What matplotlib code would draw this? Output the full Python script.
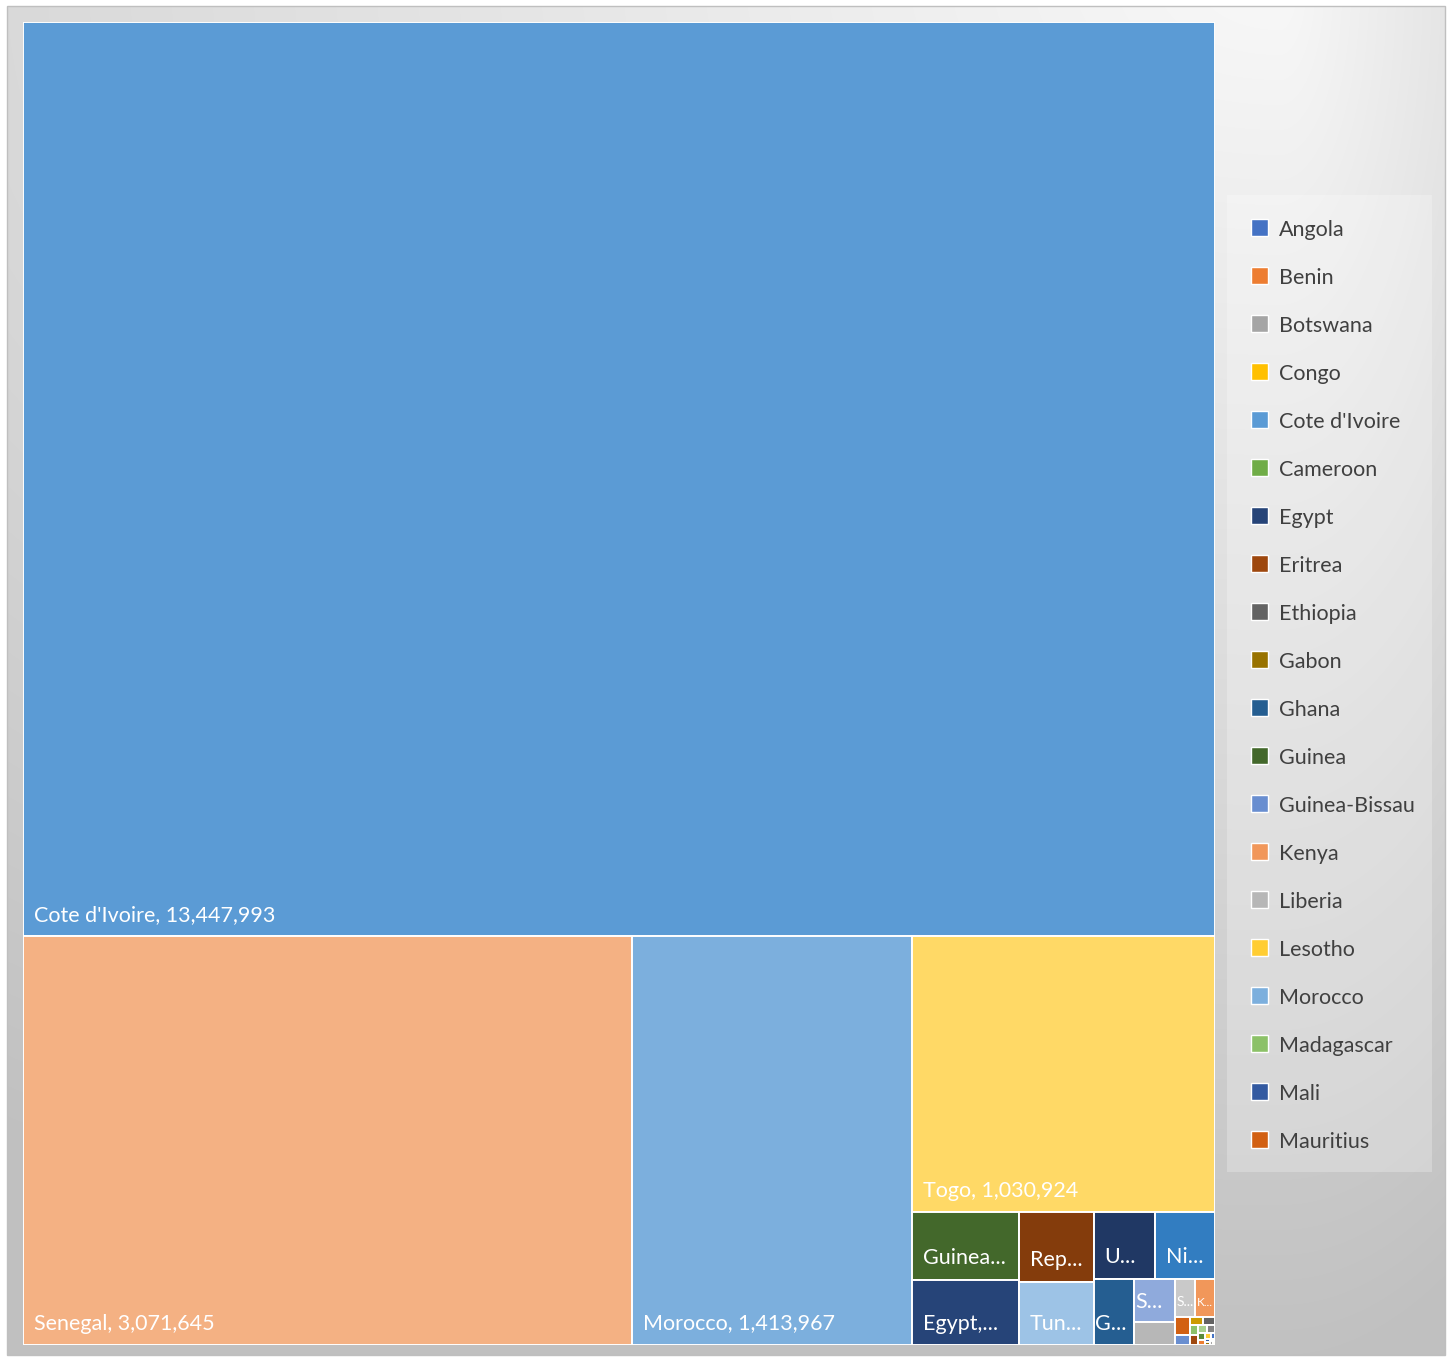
import numpy as np
import matplotlib
matplotlib.use('Agg')
import matplotlib.pyplot as plt
from matplotlib.patches import Rectangle
from matplotlib.font_manager import FontProperties

plt.rcParams['font.family'] = ['Lato', 'DejaVu Sans']

# Series in sheet order (ISO code order); palette colour follows position
COUNTRIES = [
    "Angola", "Benin", "Botswana", "Congo", "Cote d'Ivoire", "Cameroon",
    "Egypt", "Eritrea", "Ethiopia", "Gabon", "Ghana", "Guinea",
    "Guinea-Bissau", "Kenya", "Liberia", "Lesotho", "Morocco", "Madagascar",
    "Mali", "Mauritius", "Mozambique", "Namibia", "Niger", "Rwanda",
    "Sierra Leone", "Senegal", "Swaziland", "Togo", "Tunisia", "Tanzania",
    "Uganda", "Republic of South Africa",
]
VALUES = [
    300, 400, 120, 100, 13447993, 150,
    86200, 900, 1200, 200, 33100, 89000,
    1900, 9100, 11600, 400, 1413967, 1000,
    250, 3500, 800, 1300, 49800, 600,
    21500, 3071645, 9600, 1030924, 58500, 900,
    50400, 64000,
]
# Office theme series colours: accents, then darker/lighter variants
PALETTE = [
    "#4472C4", "#ED7D31", "#A5A5A5", "#FFC000", "#5B9BD5", "#70AD47",
    "#264478", "#9E480E", "#636363", "#997300", "#255E91", "#43682B",
    "#698ED0", "#F1975A", "#B7B7B7", "#FFCD33", "#7CAFDD", "#8CC168",
    "#335AA1", "#D26012", "#848484", "#CC9A00", "#327DC1", "#5A8A39",
    "#8FAADC", "#F4B183", "#C9C9C9", "#FFD966", "#9DC3E6", "#A9D18E",
    "#203864", "#843C0C",
]
LEGEND_COUNT = 20

FIG_W, FIG_H = 1450, 1357
MAP_X0, MAP_Y0, MAP_W, MAP_H = 23, 22, 1192, 1323
FONT_PT = 15.5
CAP_PX = FONT_PT * 100 / 72 * 0.72


def worst(row, side):
    s = sum(row)
    return max(max(side * side * r / (s * s), (s * s) / (side * side * r)) for r in row)


def squarify(areas, x, y, w, h):
    """Squarified treemap; y grows downwards. Returns (x, y, w, h) per area."""
    rects = []
    rest = list(areas)
    while rest:
        side = min(w, h)
        row = [rest[0]]
        i = 1
        while i < len(rest) and worst(row + [rest[i]], side) <= worst(row, side):
            row.append(rest[i])
            i += 1
        s = sum(row)
        if w >= h:
            cw = s / h
            yy = y
            for a in row:
                rh = a / cw
                rects.append((x, yy, cw, rh))
                yy += rh
            x += cw
            w -= cw
        else:
            rh = s / w
            xx = x
            for a in row:
                rw = a / rh
                rects.append((xx, y, rw, rh))
                xx += rw
            y += rh
            h -= rh
        rest = rest[i:]
    return rects


fig = plt.figure(figsize=(FIG_W / 100, FIG_H / 100), dpi=100)
fig.patch.set_facecolor('white')

# background: soft grey gradient, brightest near the top right
bg = fig.add_axes([0, 0, 1, 1])
bg.set_xlim(0, FIG_W)
bg.set_ylim(FIG_H, 0)
bg.axis('off')
yy, xx = np.mgrid[0:FIG_H, 0:FIG_W] + 0.5
dx = np.where(xx < 1280, (xx - 1280) / 2300, (xx - 1280) / 500)
dy = (yy + 20) / 1400
r = np.clip(np.hypot(dx, dy), 0, 1)
shade = (248 - 56 * r) / 255
inside = (xx > 7) & (xx < 1445) & (yy > 6) & (yy < 1355)
shade = np.where(inside, shade, 1.0)
bg.imshow(np.dstack([shade] * 3), extent=(0, FIG_W, FIG_H, 0), aspect='auto',
          interpolation='bilinear', zorder=0)
bg.add_patch(Rectangle((7, 6), 1438, 1349, fill=False, edgecolor='#bfbfbf',
                       linewidth=1.0, zorder=1))

# legend
bg.add_patch(Rectangle((1227, 195), 205, 977, facecolor='white', alpha=0.25,
                       edgecolor='none', zorder=1))
for i in range(LEGEND_COUNT):
    cy = 228 + 48 * i
    bg.add_patch(Rectangle((1251, cy - 9), 17, 17, facecolor=PALETTE[i],
                           edgecolor='white', linewidth=1.0, zorder=2))
    bg.text(1279, cy + 7.5, COUNTRIES[i], fontsize=FONT_PT, color='#404040',
            ha='left', va='baseline', zorder=3)

# treemap
ax = fig.add_axes([MAP_X0 / FIG_W, (FIG_H - MAP_Y0 - MAP_H) / FIG_H,
                   MAP_W / FIG_W, MAP_H / FIG_H])
ax.set_xlim(0, MAP_W)
ax.set_ylim(MAP_H, 0)
ax.axis('off')

order = sorted(range(len(VALUES)), key=lambda k: VALUES[k], reverse=True)
total = float(sum(VALUES))
areas = [VALUES[k] / total * MAP_W * MAP_H for k in order]
rects = squarify(areas, 0, 0, MAP_W, MAP_H)

renderer = fig.canvas.get_renderer()
fp = FontProperties(family=['Lato', 'DejaVu Sans'], size=FONT_PT)


def text_width(s):
    w, _, _ = renderer.get_text_width_height_descent(s, fp, ismath=False)
    return w


pad = 10.5
for k, (x, y, w, h) in zip(order, rects):
    patch = Rectangle((x, y), w, h, facecolor=PALETTE[k], edgecolor='white',
                      linewidth=1.4)
    ax.add_patch(patch)
    if h < 25 or w < 14:
        continue
    full = f"{COUNTRIES[k]}, {VALUES[k]:,}"
    avail = w - 2 * pad
    label = None
    size = FONT_PT
    if text_width(full) <= avail:
        label = full
    else:
        for n in range(len(full) - 1, 0, -1):
            cand = full[:n].rstrip() + "..."
            if text_width(cand) <= avail:
                label = cand
                break
    if label is None:
        # too narrow even for one letter: shrink it into the box
        label = full[:1] + "..."
        tw = text_width(label)
        size = min(FONT_PT, FONT_PT * (w - 3) / tw)
        tx = x + 1.5
    else:
        tx = x + 11
    off = min(15.5, (h - CAP_PX) / 2)
    t = ax.text(tx, y + h - off, label, fontsize=size, color='white',
                ha='left', va='baseline')
    t.set_clip_path(patch)

fig.savefig('out.png', dpi=100)
